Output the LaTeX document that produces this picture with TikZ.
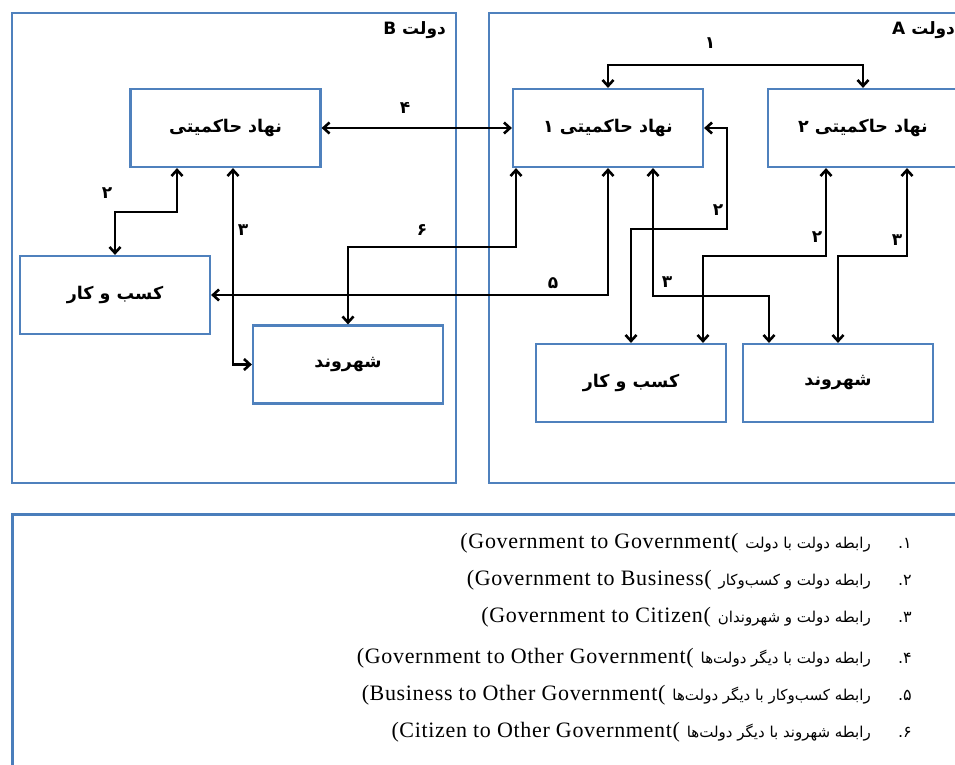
\documentclass[tikz,border=0pt]{standalone}
\usepackage{fontspec}
\setmainfont{Liberation Serif}
\newfontfamily\fa[Script=Arabic]{DejaVu Sans}
\newfontfamily\enwide[LetterSpace=3]{Liberation Serif}
\TeXXeTstate=1
\usetikzlibrary{arrows.meta}

\definecolor{boxblue}{HTML}{4F81BD}
\definecolor{legendblue}{HTML}{4A7EBB}

\begin{document}
\begin{tikzpicture}[x=1pt,y=-1pt,
  every node/.style={inner sep=0pt},
  unit/.style={draw=boxblue, line width=2.2pt, minimum width=190pt,
    minimum height=78pt, font=\fa\bfseries\fontsize{17.5}{20}\selectfont},
  statebox/.style={draw=boxblue, line width=2.2pt},
  statetitle/.style={font=\fa\bfseries\fontsize{17}{20}\selectfont},
  link/.style={line width=2.6pt,
    {Straight Barb[length=6pt,width=11pt]}-{Straight Barb[length=6pt,width=11pt]}},
  num/.style={font=\fa\bfseries\fontsize{17}{20}\selectfont},
  entry/.style={anchor=base east},
  entrynum/.style={anchor=base east, font=\fa\fontsize{16}{18}\selectfont},
]
\useasboundingbox (0,0) rectangle (955,765);
\clip (0,0) rectangle (955,765);
\fill[white] (0,0) rectangle (955,765);

% the two states
\draw[statebox] (12,13) rectangle (456,483);
\draw[statebox] (489,13) rectangle (975,483);
\node[statetitle, anchor=east] (tB) at (446,30) {\beginR دولت B\endR};
\node[statetitle, anchor=west] (tA) at (892,30) {\beginR دولت A\endR};

% units of state B
\node[unit] (sB) at (225.5,128) {\beginR نهاد حاکمیتی\endR};
\node[unit] (bB) at (115,295) {\beginR کسب و کار\endR};
\node[unit] (cB) at (348,364.5) {\beginR شهروند\endR};

% units of state A
\node[unit] (s1) at (608,128) {\beginR نهاد حاکمیتی ۱\endR};
\node[unit] (s2) at (863,128) {\beginR نهاد حاکمیتی ۲\endR};
\node[unit] (bA) at (631,383) {\beginR کسب و کار\endR};
\node[unit] (cA) at (838,383) {\beginR شهروند\endR};

% bend points of the links
\coordinate (k1) at (177,212);
\coordinate (k2) at (233,365);
\coordinate (k6) at (516,247);
\coordinate (k3) at (653,296);
\coordinate (k3b) at (769,296);
\coordinate (k4) at (727,229);
\coordinate (k5) at (826,256);
\coordinate (k5b) at (703,256);
\coordinate (k7) at (907,256);

% links
\draw[link] (s1.north) -- ++(0,-23) -| (s2.north);
\draw[link] (sB.east) -- (s1.west);
\draw[link] (sB.south -| k1) -- (k1) -| (bB.north);
\draw[link] (sB.south -| k2) |- (cB.west);
\draw[link] (s1.south) |- (bB.east);
\draw[link] (s1.south -| k6) -- (k6) -| (cB.north);
\draw[link] (s1.south -| k3) -- (k3) -- (k3b) -- (cA.north -| k3b);
\draw[link] (s1.east) -| (k4) -| (bA.north);
\draw[link] (s2.south -| k5) -- (k5) -- (k5b) -- (bA.north -| k5b);
\draw[link] (s2.south -| k7) -- (k7) -| (cA.north);

% link numbers
\node[num] (l1) at (710,43) {۱};
\node[num] (l4) at (405,108) {۴};
\node[num] (l2b) at (107,193) {۲};
\node[num] (l3b) at (243,230) {۳};
\node[num] (l6) at (422,230) {۶};
\node[num] (l5) at (553,283) {۵};
\node[num] (l3a) at (667,282) {۳};
\node[num] (l2a) at (718,210) {۲};
\node[num] (l2c) at (817,237) {۲};
\node[num] (l3c) at (897,240) {۳};

% legend
\draw[draw=legendblue, line width=3pt] (12,514) rectangle (975,800);
\newcommand\enfont{\enwide\fontsize{22}{24}\selectfont}
\newcommand\fafont{\fa\fontsize{15}{18}\selectfont}
\newcommand\gap{\hspace{7pt}}
\node[entrynum] (n1) at (912,548) {\mbox{.}\mbox{۱}};
\node[entrynum] (n2) at (912,585) {\mbox{.}\mbox{۲}};
\node[entrynum] (n3) at (912,622) {\mbox{.}\mbox{۳}};
\node[entrynum] (n4) at (912,663) {\mbox{.}\mbox{۴}};
\node[entrynum] (n5) at (912,700) {\mbox{.}\mbox{۵}};
\node[entrynum] (n6) at (912,737) {\mbox{.}\mbox{۶}};
\node[entry] (e1) at (871,548) {{\enfont (Government to Government(}\gap{\fafont\beginR رابطه دولت با دولت\endR}};
\node[entry] (e2) at (871,585) {{\enfont (Government to Business(}\gap{\fafont\beginR رابطه دولت و کسب‌وکار\endR}};
\node[entry] (e3) at (871,622) {{\enfont (Government to Citizen(}\gap{\fafont\beginR رابطه دولت و شهروندان\endR}};
\node[entry] (e4) at (871,663) {{\enfont (Government to Other Government(}\gap{\fafont\beginR رابطه دولت با دیگر دولت‌ها\endR}};
\node[entry] (e5) at (871,700) {{\enfont (Business to Other Government(}\gap{\fafont\beginR رابطه کسب‌وکار با دیگر دولت‌ها\endR}};
\node[entry] (e6) at (871,737) {{\enfont (Citizen to Other Government(}\gap{\fafont\beginR رابطه شهروند با دیگر دولت‌ها\endR}};
\end{tikzpicture}
\end{document}
